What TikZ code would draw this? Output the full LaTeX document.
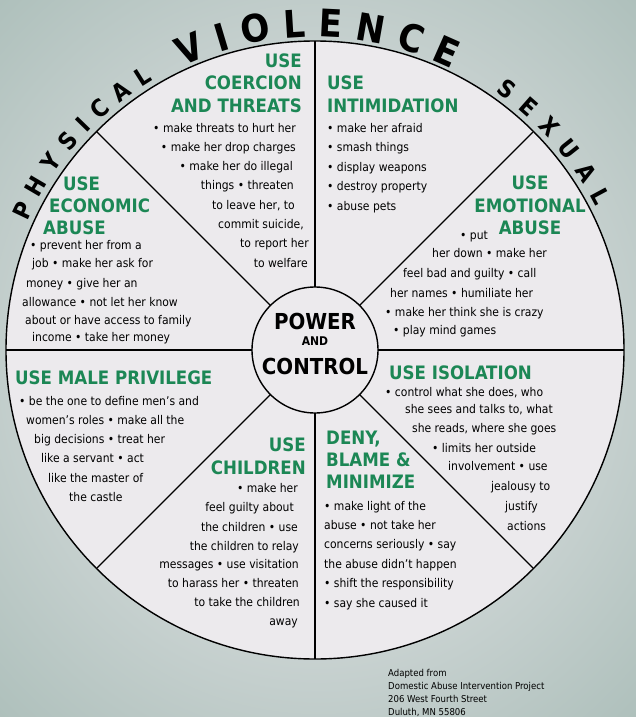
\documentclass[tikz,border=0pt]{standalone}
\usepackage{fontspec}
\setmainfont{DejaVu Sans Condensed}
\usetikzlibrary{decorations.text,calc}
\definecolor{hgreen}{RGB}{28,135,85}
\definecolor{bgout}{RGB}{160,182,176}
\definecolor{bgin}{RGB}{238,236,239}
\definecolor{wfill}{RGB}{236,234,237}
\begin{document}
\begin{tikzpicture}[x=1pt,y=-1pt,
  body/.style={inner sep=0,font=\fontsize{12}{14}\selectfont},
  head/.style={inner sep=0,text=hgreen,font=\fontsize{18.5}{20}\selectfont\bfseries},
  ctr/.style={inner sep=0,font=\fontsize{22}{24}\selectfont\bfseries},
  foot/.style={inner sep=0,font=\fontsize{9.5}{10}\selectfont},
  spoke/.style={line width=1.4pt}]
\useasboundingbox (0,0) rectangle (636,717);
\shade[inner color=bgin, outer color=bgout] (-250,-250) rectangle (886,967);
\coordinate (C) at (315,350);
\node[circle,draw,fill=wfill,line width=1.4pt,minimum size=618,inner sep=0,outer sep=0] (wheel) at (C) {};
\node[circle,draw,line width=1.4pt,minimum size=126,inner sep=0,outer sep=0] (pc) at (C) {};
\foreach \a in {0,45,90,135,180,225,270,315}
  \draw[spoke] (pc.\a) -- (wheel.\a);
% curved titles
\path[decorate,decoration={text along path,text align={fit to path},
  text={|\fontsize{24}{24}\selectfont\bfseries|PHYSICAL}}]
  ($(C)+(-156:315)$) arc[start angle=-156,end angle=-121,radius=315];
\path[decorate,decoration={text along path,text align={fit to path},
  text={|\fontsize{38}{38}\selectfont\bfseries|VIOLENCE}}]
  ($(C)+(-115:313)$) arc[start angle=-115,end angle=-64,radius=313];
\path[decorate,decoration={text along path,text align={fit to path},
  text={|\fontsize{24}{24}\selectfont\bfseries|SEXUAL}}]
  ($(C)+(-55:315)$) arc[start angle=-55,end angle=-27,radius=315];
% coercion
\foreach \t/\y [count=\i] in {USE/67,COERCION/89,AND THREATS/112}
  \node[head,anchor=base east] (coh\i) at (302,\y) {\t};
\foreach \x/\t [count=\i] in {296/• make threats to hurt her,296/• make her drop charges,293/• make her do illegal,294/things • threaten,295/{to leave her, to},304/{commit suicide,},309/to report her,308/to welfare}
  \node[body,anchor=base east] (co\i) at (\x,{132+19.3*(\i-1)}) {\t};
% intimidation
\foreach \t/\y [count=\i] in {USE/89,INTIMIDATION/112}
  \node[head,anchor=base west] (inh\i) at (327,\y) {\t};
\foreach \t [count=\i] in {• make her afraid,• smash things,• display weapons,• destroy property,• abuse pets}
  \node[body,anchor=base west] (in\i) at (327,{132+19.6*(\i-1)}) {\t};
% economic
\foreach \x/\t/\y [count=\i] in {63/USE/190,49/ECONOMIC/212,43/ABUSE/234}
  \node[head,anchor=base west] (ech\i) at (\x,\y) {\t};
\foreach \x/\y/\t [count=\i] in {30/249/• prevent her from a,32/267/job • make her ask for,26/287/money • give her an,22/306/allowance • not let her know,25/324/about or have access to family,32/341/income • take her money}
  \node[body,anchor=base west] (ec\i) at (\x,\y) {\t};
% emotional
\foreach \t/\y [count=\i] in {USE/189,EMOTIONAL/212,ABUSE/234}
  \node[head,anchor=base] (emh\i) at (530,\y) {\t};
\foreach \x/\y/\t [count=\i] in {460/239/• put,432/257/her down • make her,403/277/feel bad and guilty • call,390/297/her names • humiliate her,385/316/• make her think she is crazy,393/334/• play mind games}
  \node[body,anchor=base west] (em\i) at (\x,\y) {\t};
% male privilege
\node[head,anchor=base west] (mph) at (15,384) {USE MALE PRIVILEGE};
\foreach \x/\y/\t [count=\i] in {19/405/• be the one to define men’s and,26/424/women’s roles • make all the,34/443/big decisions • treat her,41/462/like a servant • act,48/482/like the master of,69/501/the castle}
  \node[body,anchor=base west] (mp\i) at (\x,\y) {\t};
% isolation
\node[head,anchor=base west] (ish) at (389,379) {USE ISOLATION};
\foreach \x/\y/\t [count=\i] in {385/396/{• control what she does, who},405/413/{she sees and talks to, what},412/432/{she reads, where she goes},432/452/• limits her outside,448/470/involvement • use,491/490/jealousy to,505/510/justify,507/530/actions}
  \node[body,anchor=base west] (is\i) at (\x,\y) {\t};
% children
\foreach \t/\y [count=\i] in {USE/451,CHILDREN/474}
  \node[head,anchor=base east] (chh\i) at (306,\y) {\t};
\foreach \x/\y/\t [count=\i] in {298/492/• make her,294/511/feel guilty about,298/531/the children • use,299/550/the children to relay,299/568/messages • use visitation,299/587/to harass her • threaten,300/606/to take the children,298/625/away}
  \node[body,anchor=base east] (ch\i) at (\x,\y) {\t};
% deny
\foreach \t/\y [count=\i] in {{DENY,}/444,BLAME \&/466,MINIMIZE/488}
  \node[head,anchor=base west] (dnh\i) at (326,\y) {\t};
\foreach \t [count=\i] in {• make light of the,abuse • not take her,concerns seriously • say,the abuse didn’t happen,• shift the responsibility,• say she caused it}
  \node[body,anchor=base west] (dn\i) at (324,{510+19.4*(\i-1)}) {\t};
% center
\node[ctr,anchor=base] (pw) at (315,329) {POWER};
\node[inner sep=0,font=\fontsize{12}{12}\selectfont\bfseries,anchor=base] (and) at (315,345) {AND};
\node[ctr,anchor=base] (ct) at (315,374) {CONTROL};
% footer
\foreach \t [count=\i] in {Adapted from,Domestic Abuse Intervention Project,206 West Fourth Street,{Duluth, MN 55806}}
  \node[foot,anchor=base west] (ft\i) at (388,{676+13.3*(\i-1)}) {\t};
\end{tikzpicture}
\end{document}
